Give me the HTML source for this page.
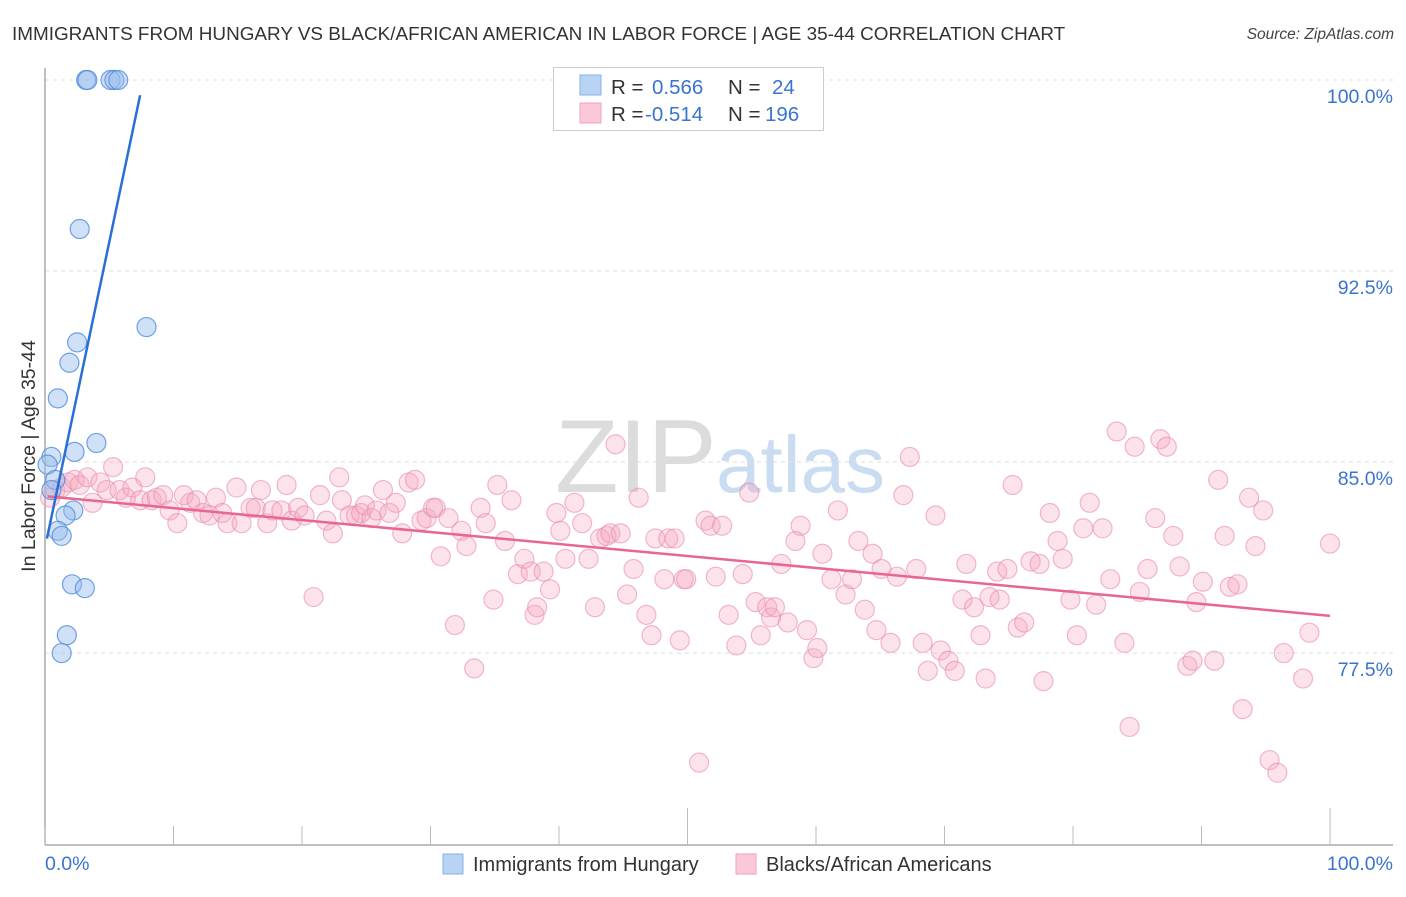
<!DOCTYPE html>
<html><head><meta charset="utf-8"><style>
body{margin:0;background:#fff;}
svg text{font-family:"Liberation Sans",sans-serif;}
</style></head><body>
<svg width="1406" height="892" viewBox="0 0 1406 892" xmlns="http://www.w3.org/2000/svg">
<text x="12" y="40" font-size="18.9" fill="#333">IMMIGRANTS FROM HUNGARY VS BLACK/AFRICAN AMERICAN IN LABOR FORCE | AGE 35-44 CORRELATION CHART</text>
<text x="1394" y="39" font-size="15.5" fill="#444" font-style="italic" text-anchor="end">Source: ZipAtlas.com</text>
<g>
<text x="555" y="492" font-family="Liberation Serif,serif" font-size="104" fill="#dcdcdc">ZIP</text>
<text x="716" y="492" font-size="80" fill="#c9dcf2">atlas</text>
</g>
<g id="grid"></g>
<g id="axes"></g>
<g id="pts"></g>
<g id="lines"></g>
<text transform="translate(35,456) rotate(-90)" font-size="19.5" fill="#333" text-anchor="middle">In Labor Force | Age 35-44</text>
<g>
<rect x="553.5" y="67.5" width="270" height="63" fill="#fff" stroke="#ccc"/>
<rect x="580" y="75" width="21" height="20" fill="#b9d3f5" stroke="#88b0e6"/>
<rect x="580" y="103" width="21" height="20" fill="#fbc8d8" stroke="#eea3bb"/>
<text x="611" y="94" font-size="20.5" fill="#333">R =</text><text x="652" y="94" font-size="20.5" fill="#3a74d0">0.566</text>
<text x="728" y="94" font-size="20.5" fill="#333">N =</text><text x="772" y="94" font-size="20.5" fill="#3a74d0">24</text>
<text x="611" y="121" font-size="20.5" fill="#333">R =</text><text x="645" y="121" font-size="20.5" fill="#3a74d0">-0.514</text>
<text x="728" y="121" font-size="20.5" fill="#333">N =</text><text x="765" y="121" font-size="20.5" fill="#3a74d0">196</text>
</g>
<g>
<rect x="443" y="854" width="20" height="20" fill="#b9d3f5" stroke="#88b0e6"/>
<text x="473" y="871" font-size="20" fill="#333">Immigrants from Hungary</text>
<rect x="736" y="854" width="20" height="20" fill="#fbc8d8" stroke="#eea3bb"/>
<text x="766" y="871" font-size="20" fill="#333">Blacks/African Americans</text>
</g>
</svg>
<script>
const yTicks=[100,92.5,85,77.5];
const yTickLabels=["100.0%","92.5%","85.0%","77.5%"];
const xTickLabels=["0.0%","100.0%"];
const blueX=[3.2,3.3,5.1,5.4,5.7,2.7,7.9,2.5,1.9,1.0,4.0,2.3,0.5,0.2,0.8,0.5,2.2,1.6,1.0,1.3,2.1,3.1,1.7,1.3];
const blueY=[100,100,100,100,100,94.15,90.3,89.7,88.9,87.5,85.75,85.4,85.2,84.9,84.3,83.9,83.1,82.9,82.3,82.1,80.2,80.05,78.2,77.5];
const pinkX=[0.4,0.8,1.3,1.8,2.3,2.7,3.3,3.7,4.3,4.8,5.3,5.8,6.3,6.8,7.4,7.8,8.3,8.7,9.2,9.7,10.3,10.8,11.3,11.8,12.3,12.8,13.3,13.8,14.2,14.9,15.3,16.0,16.4,16.8,17.3,17.7,18.4,18.8,19.2,19.7,20.2,20.9,21.4,21.9,22.4,22.9,23.1,23.7,24.2,24.6,24.9,25.4,25.8,26.3,26.8,27.3,27.8,28.3,28.8,29.3,29.7,30.2,30.4,30.8,31.4,31.9,32.4,32.8,33.4,33.9,34.3,34.9,35.2,35.8,36.3,36.8,37.3,37.8,38.1,38.3,38.8,39.3,39.8,40.1,40.5,41.2,41.8,42.3,42.8,43.2,43.7,44.0,44.4,44.8,45.3,45.8,46.2,46.8,47.2,47.5,48.2,48.5,49.0,49.4,49.7,49.9,50.9,51.4,51.8,52.2,52.7,53.2,53.8,54.3,54.8,55.3,55.7,56.2,56.5,56.8,57.3,57.8,58.4,58.8,59.3,59.8,60.1,60.5,61.2,61.7,62.3,62.8,63.3,63.8,64.4,64.7,65.1,65.8,66.3,66.8,67.3,67.8,68.3,68.7,69.3,69.7,70.3,70.8,71.4,71.7,72.3,72.8,73.2,73.5,74.1,74.3,74.9,75.3,75.7,76.2,76.7,77.4,77.7,78.2,78.8,79.2,79.8,80.3,80.8,81.3,81.8,82.3,82.9,83.4,84.0,84.4,84.8,85.2,85.8,86.4,86.8,87.3,87.8,88.3,88.9,89.3,89.6,90.1,91.0,91.3,91.8,92.2,92.8,93.2,93.7,94.2,94.8,95.3,95.9,96.4,97.9,98.4,100];
const pinkY=[83.6,83.9,84.0,84.2,84.3,84.1,84.4,83.4,84.2,83.9,84.8,83.9,83.6,84.0,83.5,84.4,83.5,83.6,83.7,83.1,82.6,83.7,83.4,83.5,83.0,82.9,83.6,83.0,82.6,84.0,82.6,83.2,83.2,83.9,82.6,83.1,83.1,84.1,82.7,83.2,82.9,79.7,83.7,82.7,82.2,84.4,83.5,82.9,82.9,83.0,83.3,82.8,83.1,83.9,83.0,83.4,82.2,84.2,84.3,82.7,82.8,83.2,83.2,81.3,82.8,78.6,82.3,81.7,76.9,83.2,82.6,79.6,84.1,81.9,83.5,80.6,81.2,80.7,79.0,79.3,80.7,80.0,83.0,82.3,81.2,83.4,82.6,81.2,79.3,82.0,82.1,82.2,85.7,82.2,79.8,80.8,83.6,79.0,78.2,82.0,80.4,82.0,82.0,78.0,80.4,80.4,73.2,82.7,82.5,80.5,82.5,79.0,77.8,80.6,83.8,79.5,78.2,79.3,78.9,79.3,81.0,78.7,81.9,82.5,78.4,77.3,77.7,81.4,80.4,83.1,79.8,80.4,81.9,79.2,81.4,78.4,80.8,77.9,80.5,83.7,85.2,80.8,77.9,76.8,82.9,77.6,77.2,76.8,79.6,81.0,79.3,78.2,76.5,79.7,80.7,79.6,80.8,84.1,78.5,78.7,81.1,81.0,76.4,83.0,81.9,81.2,79.6,78.2,82.4,83.4,79.4,82.4,80.4,86.2,77.9,74.6,85.6,79.9,80.8,82.8,85.9,85.6,82.1,80.9,77.0,77.2,79.5,80.3,77.2,84.3,82.1,80.1,80.2,75.3,83.6,81.7,83.1,73.3,72.8,77.5,76.5,78.3,81.8];

const NS='http://www.w3.org/2000/svg';
const X0=45,X1=1330,YT=80,YPX=25.47;
function xs(v){return X0+(X1-X0)*v/100;}
function ys(v){return YT+(100-v)*YPX;}
function mk(tag,attrs,parent){const e=document.createElementNS(NS,tag);for(const k in attrs)e.setAttribute(k,attrs[k]);parent.appendChild(e);return e;}
const grid=document.getElementById('grid'),axes=document.getElementById('axes'),pts=document.getElementById('pts'),lines=document.getElementById('lines');
yTicks.forEach((t,i)=>{
  const l=mk('line',{x1:X0,x2:1393,y1:ys(t),y2:ys(t),stroke:'#ddd','stroke-dasharray':'4,4'},grid);
  
  
  const tx=mk('text',{x:1393,y:ys(t)+23,'font-size':19.5,fill:'#3a74d0','text-anchor':'end'},grid);
  tx.textContent=yTickLabels[i];
  
  
});
const ya=mk('line',{x1:X0,x2:X0,y1:68,y2:845,stroke:'#aaa','stroke-width':1.5},axes);


const xa=mk('line',{x1:X0,x2:1393,y1:845,y2:845,stroke:'#aaa','stroke-width':1.5},axes);


for(let i=0;i<=10;i++){
  const v=i*10;const major=(i===5||i===10);
  const tk=mk('line',{x1:xs(v),x2:xs(v),y1:major?808:826,y2:845,stroke:'#bbb'},axes);
  
  
}
[[0,'start',X0],[1,'end',1393]].forEach(([i,a,x])=>{
  const t=mk('text',{x:x,y:870,'font-size':19.5,fill:'#3a74d0','text-anchor':a},axes);
  t.textContent=xTickLabels[i];
  
  
});
function drawPts(X,Y,fill,stroke,name){
  X.forEach((x,i)=>{
    const c=mk('circle',{cx:xs(x),cy:ys(Y[i]),r:9.5,fill:fill,stroke:stroke,'stroke-width':1.2},pts);
    
    
  });
}
drawPts(pinkX,pinkY,'rgba(246,168,192,0.33)','rgba(232,140,172,0.6)','point-black');
drawPts(blueX,blueY,'rgba(150,188,238,0.45)','rgba(80,140,220,0.8)','point-hungary');
function fit(X,Y){const n=X.length;let mx=0,my=0;for(let i=0;i<n;i++){mx+=X[i];my+=Y[i];}mx/=n;my/=n;let sxy=0,sxx=0;for(let i=0;i<n;i++){sxy+=(X[i]-mx)*(Y[i]-my);sxx+=(X[i]-mx)**2;}const b=sxy/sxx;return [b,my-b*mx];}
const [bp,ap]=fit(pinkX,pinkY);
const pl=mk('line',{x1:xs(0.2),y1:ys(ap+bp*0.2),x2:xs(100),y2:ys(ap+bp*100),stroke:'#e8668f','stroke-width':2.5},lines);


const [bb,ab]=fit(blueX,blueY);
let xmax=Math.max(...blueX)+0.3;
const xAtTop=(99.4-ab)/bb;
if(bb>0&&xAtTop<xmax)xmax=xAtTop;
const bl=mk('line',{x1:xs(0.15),y1:ys(ab+bb*0.15),x2:xs(xmax),y2:ys(ab+bb*xmax),stroke:'#2a6fd6','stroke-width':2.5},lines);


</script>
</body></html>
